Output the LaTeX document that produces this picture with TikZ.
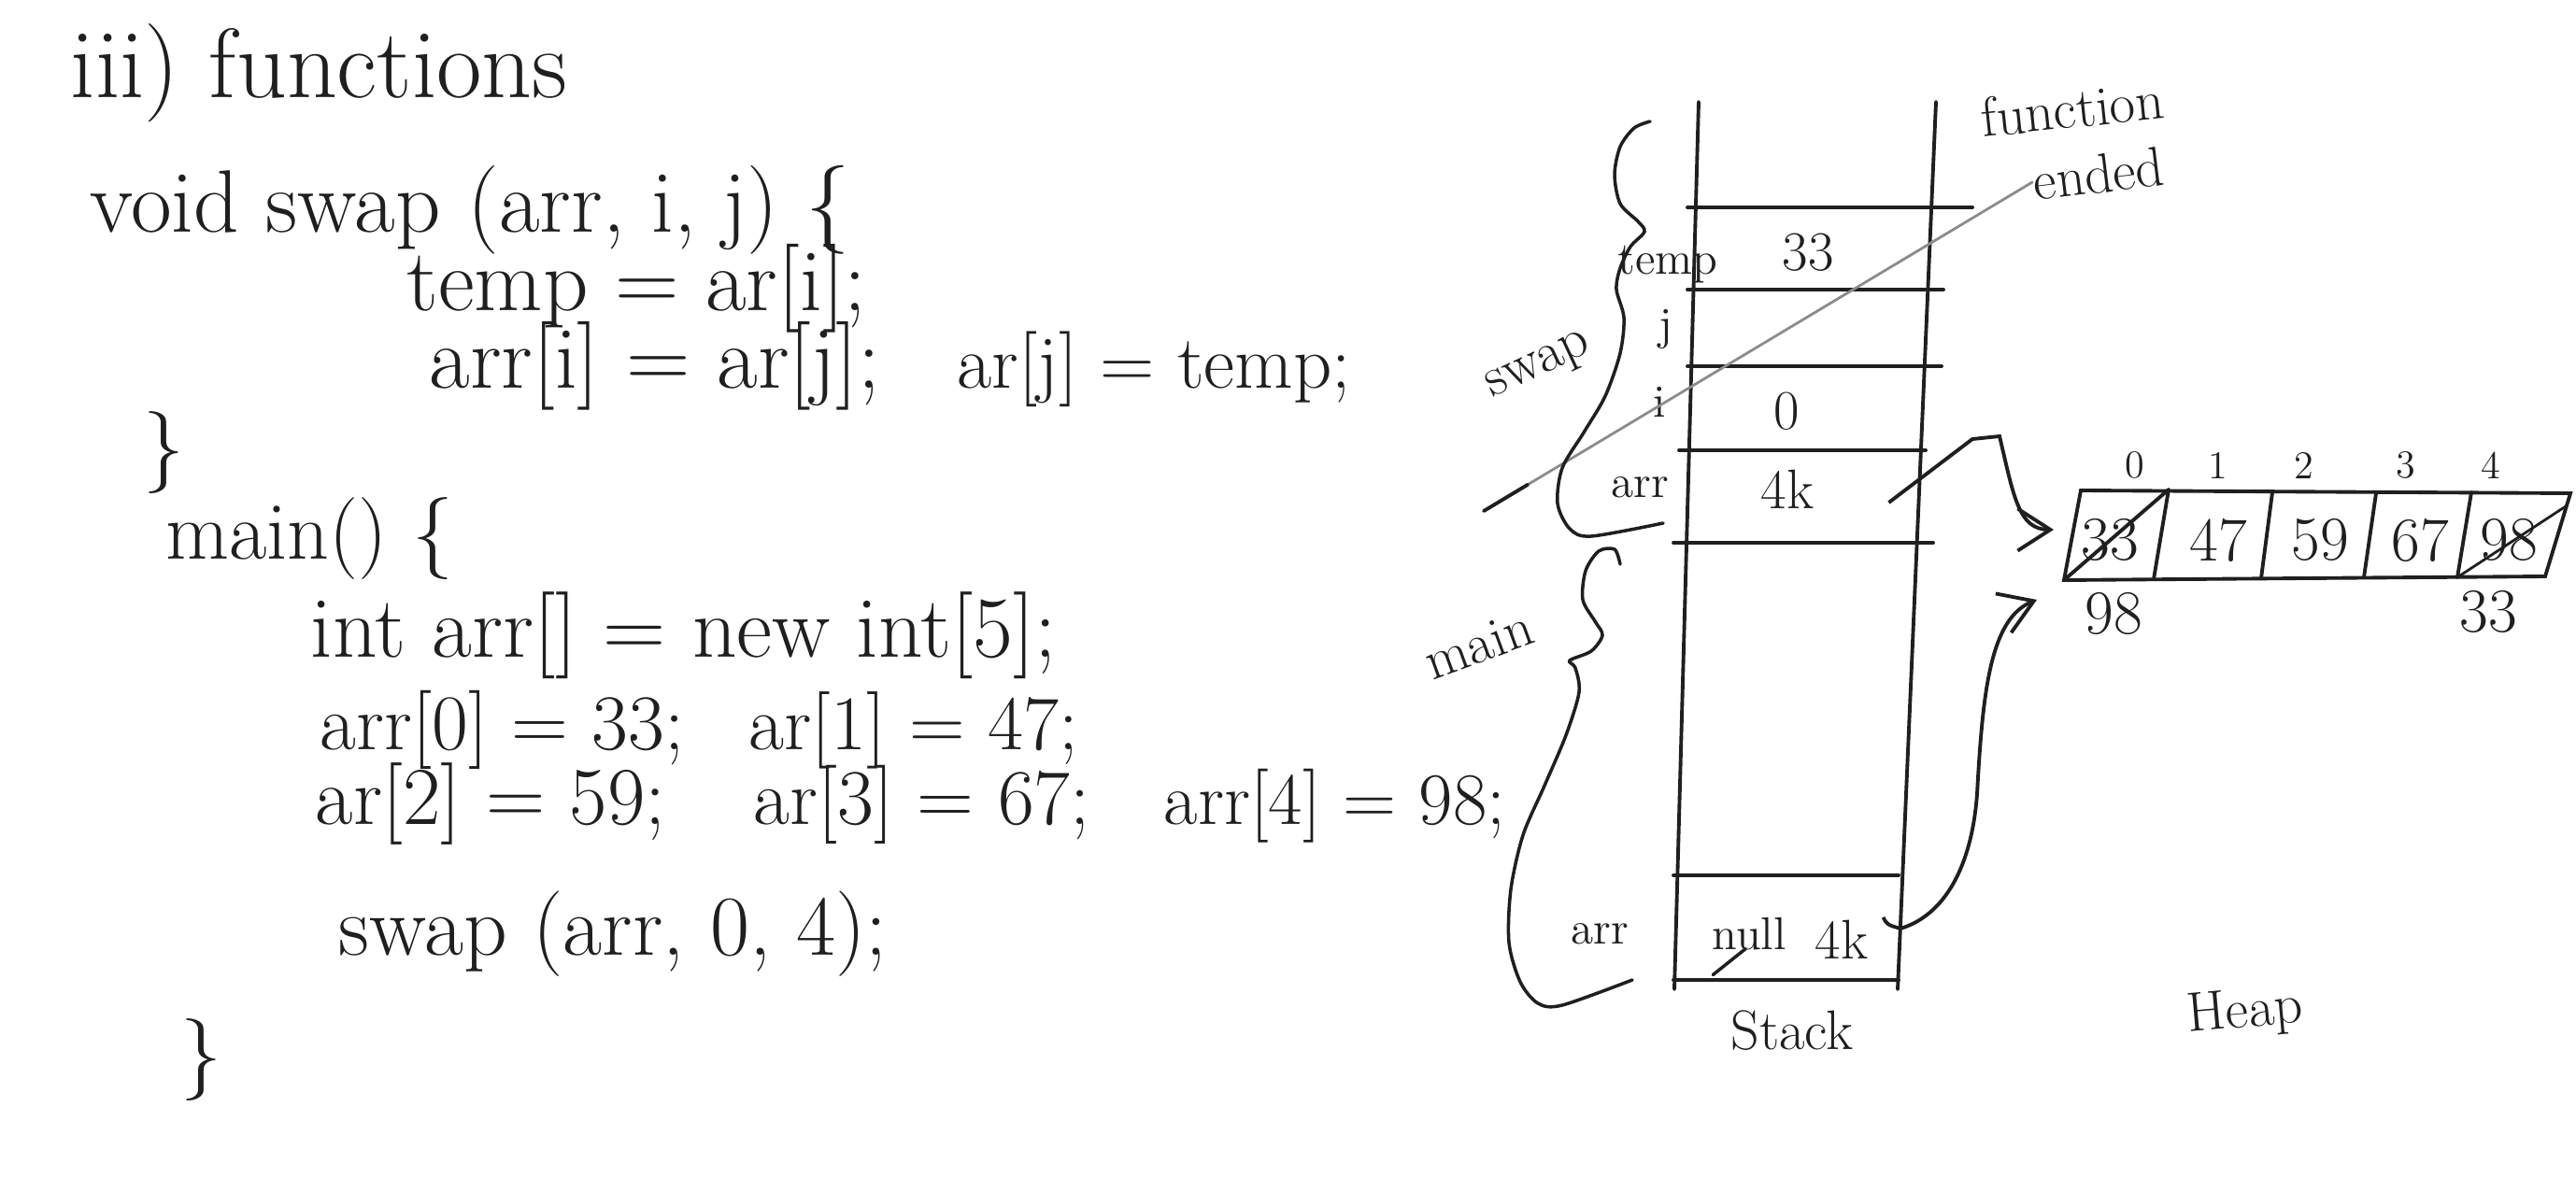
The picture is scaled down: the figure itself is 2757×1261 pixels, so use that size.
\documentclass[tikz,border=0pt]{standalone}
\usepackage{amsmath}
\usepackage{tikz}
\usetikzlibrary{arrows.meta,calc,positioning}
\definecolor{ink}{rgb}{0.12,0.12,0.12}
\definecolor{pencil}{rgb}{0.55,0.55,0.55}
\tikzset{
  title/.style={
    anchor=base west,
    inner sep=0pt,
    text=ink,
    font=\fontsize{30}{34}\selectfont
  },
  code/.style={
    anchor=base west,
    inner sep=0pt,
    text=ink,
    font=\fontsize{#1}{#1}\selectfont
  },
  code/.default=25,
  lbl/.style={
    inner sep=1pt,
    text=ink,
    font=\fontsize{14}{16}\selectfont
  },
  val/.style={
    inner sep=1pt,
    text=ink,
    font=\fontsize{17}{19}\selectfont
  },
  note/.style={
    inner sep=0pt,
    text=ink,
    font=\fontsize{17}{20}\selectfont
  },
  cell/.style={
    inner sep=1pt,
    text=ink,
    font=\fontsize{19}{22}\selectfont
  },
  idx/.style={
    inner sep=1pt,
    text=ink,
    font=\fontsize{12}{14}\selectfont
  },
  wall/.style={
    ink,
    line width=1.1pt,
    line cap=round
  },
  brace/.style={
    ink,
    line width=1pt,
    line cap=round
  },
  arrow/.style={
    -{Straight Barb[length=3.5mm,width=4.5mm]},
    ink,
    line width=1.1pt
  }
}

\begin{document}
\begin{tikzpicture}[x=0.01cm,y=-0.01cm]
\useasboundingbox (0,0) rectangle (2757,1261);

\node[title] (head) at (75,105) {iii) functions};
\node[code=27] (sig) at (96,249) {void swap (arr, i, j) \{};
\node[code=27] (tmp) at (435,333) {temp = ar[i];};
\node[code=27] (asg1) at (459,416) {arr[i] = ar[j];};
\node[code=23] (asg2) at (1024,416) {ar[j] = temp;};
\node[code,anchor=center] (endswap) at (175,485) {\}};
\node[code] (mainsig) at (177,598) {main() \{};
\node[code=26.5] (alloc) at (332,703) {int arr[] = new int[5];};
\node[code=24] (set0) at (342,802) {arr[0] = 33;};
\node[code=23.5] (set1) at (801,802) {ar[1] = 47;};
\node[code=25] (set2) at (337,882) {ar[2] = 59;};
\node[code=24] (set3) at (806,882) {ar[3] = 67;};
\node[code=22.5] (set4) at (1245,882) {arr[4] = 98;};
\node[code=26] (call) at (362,1022) {swap (arr, 0, 4);};
\node[code,anchor=center] (endmain) at (215,1135) {\}};

\coordinate (stl) at (1818,109);
\coordinate (sbl) at (1792,1059);
\coordinate (str) at (2072,109);
\coordinate (sbr) at (2031,1059);
\draw[wall] (stl) -- (sbl);
\draw[wall] (str) -- (sbr);
\foreach \y/\a/\b in {222/1806/2111, 310/1806/2080, 392/1806/2078, 482/1797/2061,
                      581/1791/2069, 937/1791/2032, 1049/1791/2032}
  \draw[wall] (\a,\y) -- (\b,\y);

\node[lbl] (ltemp) at (1785,283) {temp};
\node[val] (vtemp) at (1935,270) {33};
\node[lbl] (lj) at (1783,352) {j};
\node[lbl] (li) at (1776,430) {i};
\node[val] (vi) at (1912,440) {0};
\node[lbl] (larr) at (1755,522) {arr};
\node[val] (vak) at (1913,524) {4k};
\node[lbl] (lmarr) at (1712,1000) {arr};
\node[lbl] (vnull) at (1872,1000) {null};
\node[val] (vmk) at (1971,1006) {4k};
\draw[brace] ($(vnull.south west)+(5,22)$) -- ++(35,-28);
\node[note] (stk) at (1918,1103) {Stack};
\node[note,rotate=5] (hp) at (2403,1085) {Heap};

\node[note,rotate=6] (fn) at (2218,116) {function};
\node[note,rotate=7] (ended) at (2246,186) {ended};
\coordinate (fe0) at (1588,547);
\draw[pencil,line width=0.8pt] (fe0) -- (ended.west);
\draw[wall] (fe0) -- ($(fe0)!0.08!(ended.west)$);

\node[note,rotate=25] (swp) at (1648,394) {swap};
\node[note,rotate=20] (mn) at (1583,690) {main};
\draw[brace] plot[smooth] coordinates {(1766,130) (1749,137) (1734,157) (1728,187)
  (1734,218) (1753,237) (1760,248) (1745,264) (1734,287) (1730,310) (1738,340)
  (1734,378) (1718,424) (1695,463) (1672,501) (1667,539) (1680,566) (1703,574) (1780,560)};
\draw[brace] plot[smooth] coordinates {(1734,604) (1728,588) (1711,590) (1697,611)
  (1694,642) (1707,665) (1715,680) (1703,697) (1680,707) (1686,715) (1690,741)
  (1676,787) (1653,841) (1630,894) (1617,952) (1615,1009) (1627,1051) (1646,1074)
  (1672,1076) (1747,1049)};

\foreach \i/\xt/\yt/\xb/\yb in {0/2227/525/2209/621, 1/2321/524/2305/620, 2/2432/527/2420/619,
                                 3/2543/528/2530/618, 4/2645/527/2630/618, 5/2751/528/2724/617} {
  \coordinate (t\i) at (\xt,\yt);
  \coordinate (b\i) at (\xb,\yb);
}
\draw[wall] (t0) -- (t5) -- (b5) -- (b0) -- cycle;
\foreach \i in {1,...,4}
  \draw[wall] (t\i) -- (b\i);
\foreach \x [count=\i from 0] in {2285,2374,2466,2575,2666}
  \node[idx] (n\i) at (\x,498) {\i};
\foreach \v/\x [count=\i from 0] in {33/2258,47/2374,59/2483,67/2590,98/2685}
  \node[cell] (v\i) at (\x,578) {\v};
\draw[wall] (b0) -- (t1);
\draw[brace,line width=0.8pt] (b4) -- ($(t5)!0.15!(b5)$);
\node[cell] (old0) at (2262,657) {98};
\node[cell] (old4) at (2663,655) {33};

\coordinate (hin) at (2198,567);
\coordinate (hin2) at (2180,642);
\draw[arrow] ($(vak.east)+(76,14)$) -- (2111,470) -- (2140,467)
  .. controls (2155,530) and (2160,567) .. (hin);
\draw[arrow] ($(vmk.east)+(12,-24)$) .. controls (2020,990) .. (2034,994)
  .. controls (2080,980) and (2110,930) .. (2116,850)
  .. controls (2122,740) and (2130,662) .. (hin2);
\end{tikzpicture}
\end{document}
